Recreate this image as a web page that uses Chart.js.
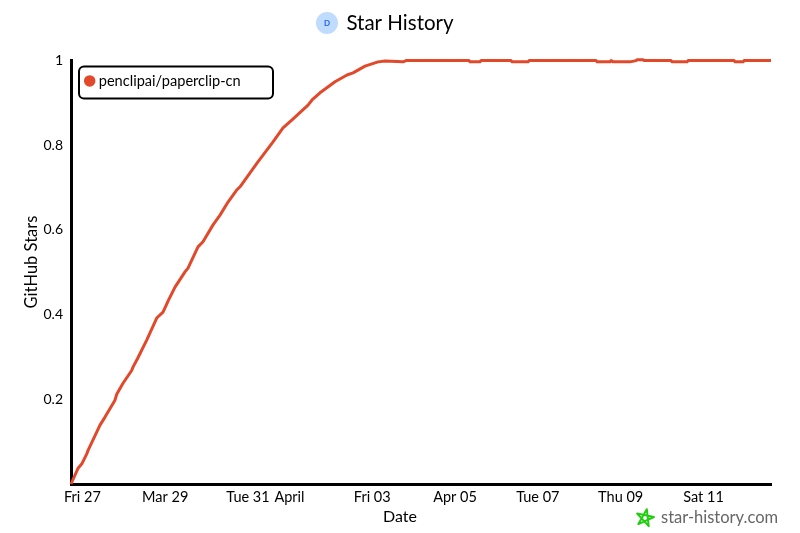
<!DOCTYPE html>
<html>
<head>
<meta charset="utf-8">
<title>Star History</title>
<script src="https://cdn.jsdelivr.net/npm/chart.js@4"></script>
<style>
  html, body { margin: 0; background: #fff; }
  #wrap { width: 800px; height: 533px; }
</style>
</head>
<body>
<div id="wrap"><canvas id="chart" width="800" height="533"></canvas></div>
<script>
const seriesName = 'penclipai/paperclip-cn';

// days counted from Fri 27 March
const days = [-0.275, -0.10, -0.017, 0.10, 0.14, 0.425, 0.546, 0.787, 0.829, 0.981, 1.19, 1.222, 1.336, 1.553, 1.633, 1.795, 1.947, 2.036, 2.068, 2.237, 2.478, 2.551, 2.599, 2.792, 2.913, 3.155, 3.324, 3.517, 3.734, 3.807, 4.217, 4.604, 4.845, 5.063, 5.449, 5.546, 5.739, 6.101, 6.391, 6.536, 6.826, 7.14, 7.309, 7.744, 7.816, 8.589, 9.338, 9.362, 9.60, 9.628, 10.353, 10.377, 10.763, 10.787, 12.406, 12.43, 12.744, 12.768, 12.79, 12.816, 13.227, 13.37, 13.396, 13.54, 13.565, 14.217, 14.241, 14.604, 14.628, 15.74, 15.763, 15.957, 15.98, 16.63];
const stars = [0, 0.038, 0.047, 0.07, 0.08, 0.139, 0.158, 0.198, 0.212, 0.238, 0.268, 0.276, 0.297, 0.340, 0.357, 0.392, 0.406, 0.425, 0.432, 0.465, 0.501, 0.510, 0.52, 0.560, 0.572, 0.612, 0.635, 0.666, 0.695, 0.702, 0.758, 0.808, 0.841, 0.860, 0.895, 0.907, 0.924, 0.950, 0.966, 0.971, 0.987, 0.997, 0.999, 0.997, 1, 1, 1, 0.997, 0.997, 1, 1, 0.997, 0.997, 1, 1, 0.997, 0.997, 1, 1, 0.997, 0.997, 1, 1.002, 1.002, 1, 1, 0.997, 0.997, 1, 1, 0.997, 0.997, 1, 1];

const xTickDays = [0, 2, 4, 5, 7, 9, 11, 13, 15];
const xTickLabels = ['Fri 27', 'Mar 29', 'Tue 31', 'April', 'Fri 03', 'Apr 05', 'Tue 07', 'Thu 09', 'Sat 11'];
const yTickValues = [0, 0.2, 0.4, 0.6, 0.8, 1];

const fontFamily = 'Lato, "Noto Sans", sans-serif';

// legend box, title badge, axis titles and the watermark
const decorations = {
  id: 'decorations',
  afterLayout(chart) {
    // the legend resets its top to 0 when placed in the chart area
    chart.legend.top = chart.chartArea.top - 4;
    chart.legend.adjustHitBoxes();
    // title sits in the middle of the page, not of the padded area
    chart.titleBlock.left = 0;
    chart.titleBlock.right = chart.width;
  },
  afterDraw(chart) {
    const ctx = chart.ctx;
    const legend = chart.legend;
    ctx.save();

    ctx.strokeStyle = '#000';
    ctx.lineWidth = 2;
    ctx.beginPath();
    ctx.roundRect(legend.left + 8, legend.top + 10, 194, 32, 5);
    ctx.stroke();

    ctx.fillStyle = '#bfdbfe';
    ctx.beginPath();
    ctx.arc(327, 23, 11, 0, Math.PI * 2);
    ctx.fill();
    ctx.fillStyle = '#2563eb';
    ctx.font = 'bold 8px ' + fontFamily;
    ctx.textAlign = 'center';
    ctx.textBaseline = 'middle';
    ctx.fillText('D', 327, 23);

    ctx.fillStyle = '#000';
    ctx.font = '16px ' + fontFamily;
    ctx.fillText('Date', 400, 517);
    ctx.save();
    ctx.translate(32, 262);
    ctx.rotate(-Math.PI / 2);
    ctx.font = '16.5px ' + fontFamily;
    ctx.fillText('GitHub Stars', 0, 0);
    ctx.restore();

    ctx.strokeStyle = '#22cc11';
    ctx.lineWidth = 2;
    ctx.lineJoin = 'round';
    ctx.beginPath();
    for (let i = 0; i < 5; i++) {
      const a = -Math.PI / 2 + i * 4 * Math.PI / 5 + 0.2;
      const px = 645 + 9 * Math.cos(a);
      const py = 518 + 9 * Math.sin(a);
      if (i === 0) ctx.moveTo(px, py); else ctx.lineTo(px, py);
    }
    ctx.closePath();
    ctx.stroke();

    ctx.fillStyle = '#666';
    ctx.font = '16.5px ' + fontFamily;
    ctx.textAlign = 'left';
    ctx.fillText('star-history.com', 661, 518);
    ctx.restore();
  }
};

new Chart(document.getElementById('chart'), {
  type: 'line',
  data: {
    labels: days,
    datasets: [{
      label: seriesName,
      data: days.map((d, i) => ({ x: d, y: stars[i] })),
      borderColor: '#e2492b',
      backgroundColor: '#e2492b',
      borderWidth: 3,
      borderJoinStyle: 'round',
      pointRadius: 0,
      tension: 0,
      clip: false
    }]
  },
  options: {
    responsive: false,
    animation: false,
    layout: { padding: { right: 29 } },
    plugins: {
      title: {
        display: true,
        text: 'Star History',
        color: '#000',
        font: { family: fontFamily, size: 20.5, weight: 'normal' },
        padding: { top: 11, bottom: 25 }
      },
      legend: {
        position: 'chartArea',
        align: 'start',
        labels: {
          color: '#000',
          font: { family: fontFamily, size: 14.6 },
          usePointStyle: true,
          pointStyle: 'circle',
          boxWidth: 3.4,
          boxHeight: 6,
          padding: 17
        }
      },
      tooltip: { enabled: false }
    },
    scales: {
      x: {
        type: 'linear',
        min: days[0],
        max: days[days.length - 1],
        grid: { display: false, drawTicks: false },
        border: { color: '#000', width: 3 },
        afterBuildTicks(axis) { axis.ticks = xTickDays.map(v => ({ value: v })); },
        afterFit(axis) { axis.height = 49; },
        ticks: {
          autoSkip: false,
          maxRotation: 0,
          color: '#000',
          padding: 5,
          font: { family: fontFamily, size: 14.5 },
          callback: v => xTickLabels[xTickDays.indexOf(v)]
        }
      },
      y: {
        min: 0,
        max: 1,
        grid: { display: false, drawTicks: false },
        border: { color: '#000', width: 3 },
        afterBuildTicks(axis) { axis.ticks = yTickValues.map(v => ({ value: v })); },
        afterFit(axis) { axis.width = 71; },
        ticks: {
          color: '#000',
          padding: 8,
          font: { family: fontFamily, size: 14 },
          callback: v => (v === 0 ? '' : String(v))
        }
      }
    }
  },
  plugins: [decorations]
});
</script>
</body>
</html>
